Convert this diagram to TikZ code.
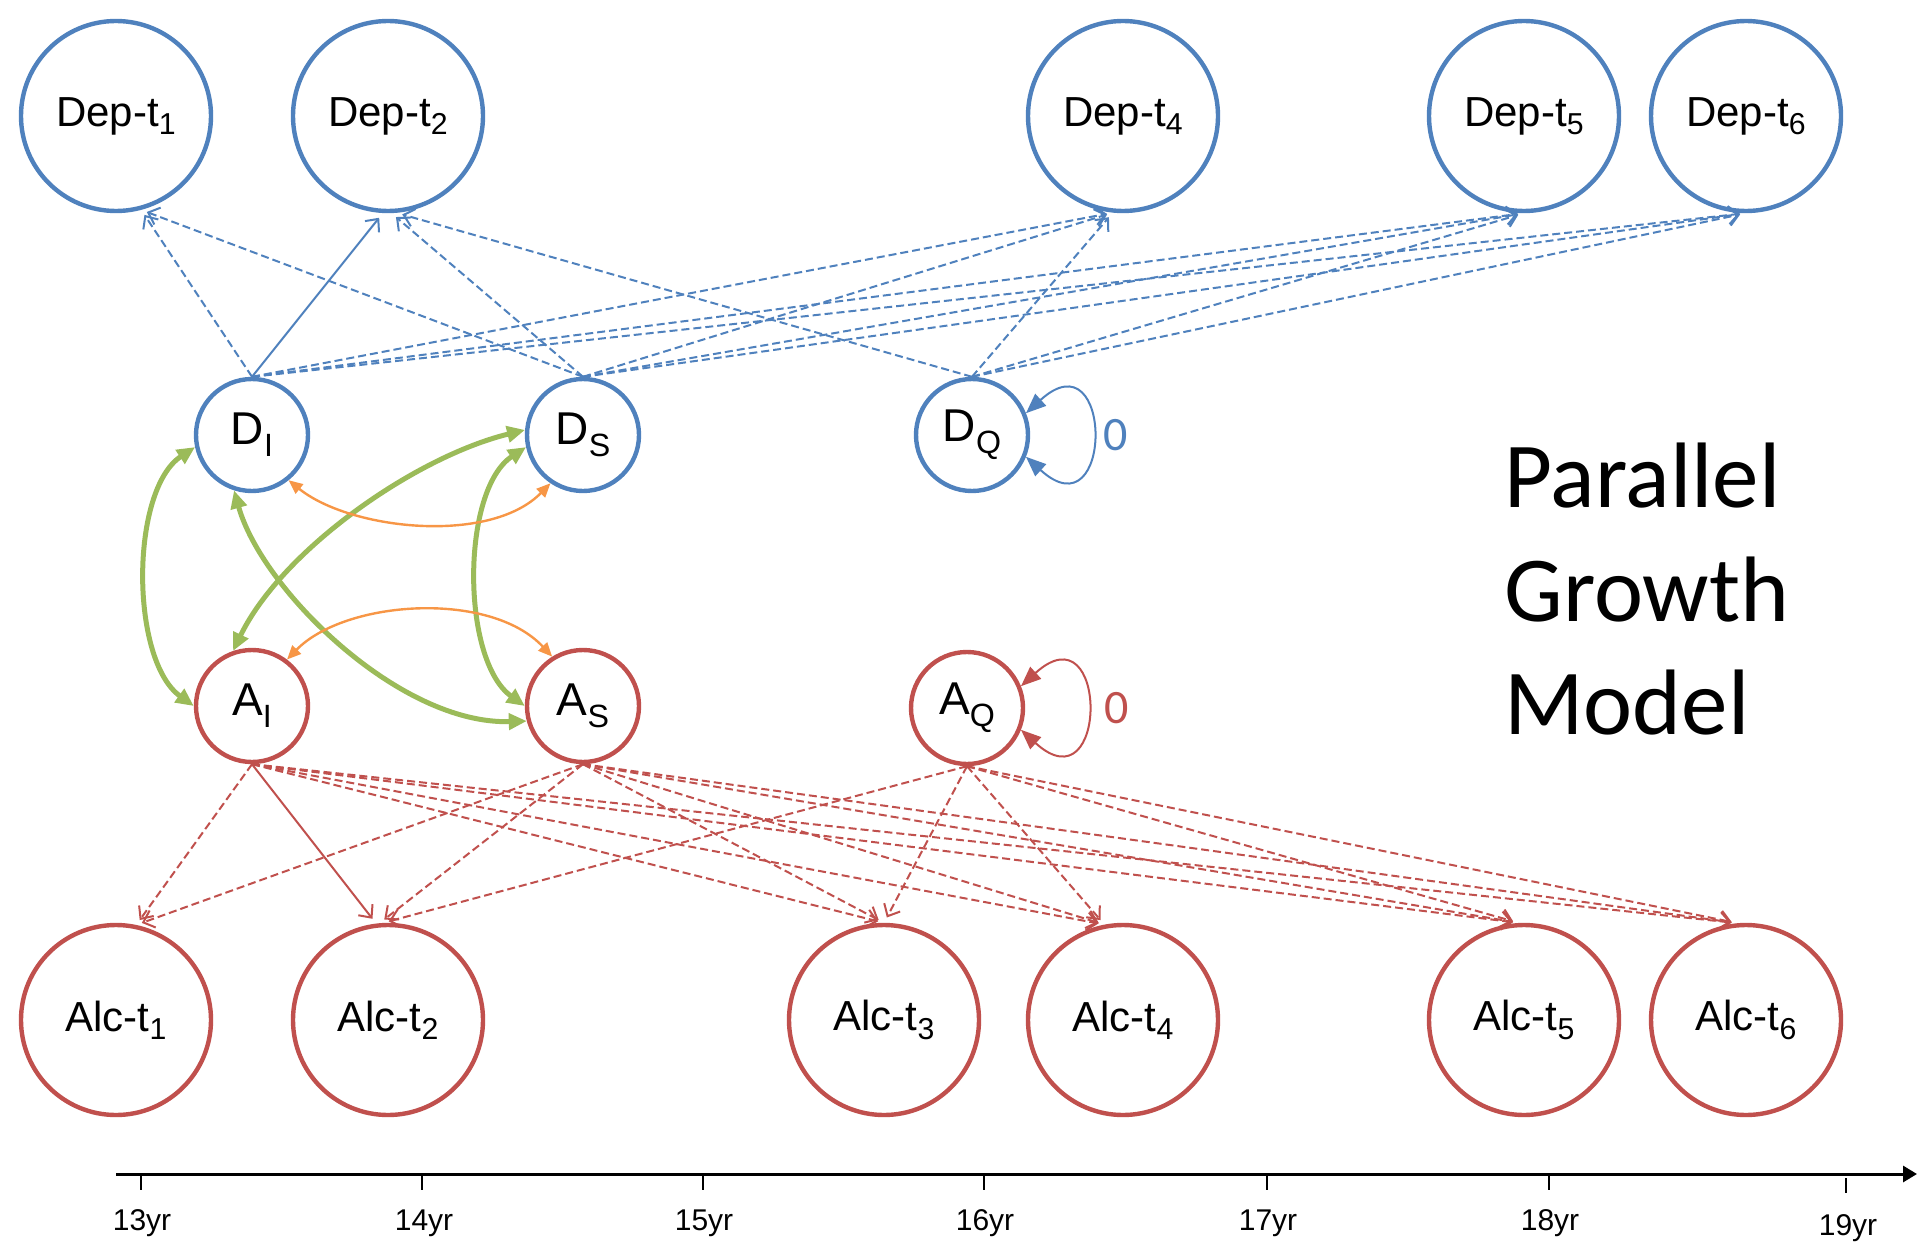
\documentclass[tikz,border=0pt]{standalone}
\usepackage{fontspec}
\setmainfont{Liberation Sans}
\newfontfamily\calib{Carlito}
\usepackage{graphicx}
\usetikzlibrary{arrows.meta}
\definecolor{ublue}{HTML}{4F81BD}
\definecolor{ured}{HTML}{C0504D}
\definecolor{ugreen}{HTML}{9BBB59}
\definecolor{uorange}{HTML}{F79646}
\newcommand{\lsub}[1]{\raisebox{-0.2em}{\scalebox{0.72}{#1}}}
\newcommand{\ssub}[1]{\raisebox{-0.26em}{\scalebox{0.7}{#1}}}
\begin{document}
\begin{tikzpicture}[x=0.5pt,y=-0.5pt,
  bigD/.style={circle, draw=ublue, fill=white, line width=2.2pt, minimum size=95pt, inner sep=0pt, font=\fontsize{21}{25}\selectfont},
  bigA/.style={bigD, draw=ured},
  latD/.style={circle, draw=ublue, fill=white, line width=2.2pt, minimum size=56pt, inner sep=0pt, font=\fontsize{23}{27}\selectfont},
  latA/.style={latD, draw=ured},
  bdash/.style={draw=ublue, line width=1pt, dash pattern=on 4pt off 2pt, shorten >=3pt, -{Straight Barb[length=5pt,width=9pt]}},
  bsolid/.style={draw=ublue, line width=1pt, shorten >=3pt, -{Straight Barb[length=5pt,width=9pt]}},
  rdash/.style={bdash, draw=ured},
  rsolid/.style={bsolid, draw=ured},
  gcurve/.style={draw=ugreen, line width=2.5pt, {Triangle[length=9pt,width=8pt]}-{Triangle[length=9pt,width=8pt]}},
  ocurve/.style={draw=uorange, line width=1.2pt, {Triangle[length=7pt,width=6pt]}-{Triangle[length=7pt,width=6pt]}},
  bloop/.style={draw=ublue, line width=1pt, {Triangle[length=10pt,width=8pt]}-{Triangle[length=10pt,width=8pt]}},
  rloop/.style={bloop, draw=ured},
  zlabel/.style={font=\calib\fontsize{24}{28}\selectfont},
  ttl/.style={anchor=base west, inner sep=0pt, font=\calib\fontsize{46.5}{56}\selectfont},
  yr/.style={anchor=base, inner sep=0pt, font=\fontsize{15}{18}\selectfont},
  tick/.style={line width=0.6pt}
]
\useasboundingbox (0,0) rectangle (1917,1247);

% outcome nodes
\node[bigD] (dep1) at (116,116) {Dep-t\lsub{1}};
\node[bigD] (dep2) at (388,116) {Dep-t\lsub{2}};
\node[bigD] (dep4) at (1123,116) {Dep-t\lsub{4}};
\node[bigD] (dep5) at (1524,116) {Dep-t\lsub{5}};
\node[bigD] (dep6) at (1746,116) {Dep-t\lsub{6}};

\node[bigA] (alc1) at (116,1020) {Alc-t\lsub{1}};
\node[bigA] (alc2) at (388,1020) {Alc-t\lsub{2}};
\node[bigA] (alc3) at (884,1020) {Alc-t\lsub{3}};
\node[bigA] (alc4) at (1123,1020) {Alc-t\lsub{4}};
\node[bigA] (alc5) at (1524,1020) {Alc-t\lsub{5}};
\node[bigA] (alc6) at (1746,1020) {Alc-t\lsub{6}};

% latent nodes
\node[latD] (di) at (252,435) {D\ssub{I}};
\node[latD] (ds) at (583,435) {D\ssub{S}};
\node[latD] (dq) at (972,435) {D\ssub{Q}};
\node[latA] (ai) at (252,706) {A\ssub{I}};
\node[latA] (as) at (583,706) {A\ssub{S}};
\node[latA] (aq) at (967,708) {A\ssub{Q}};

% blue loadings
\draw[bdash]  (di.north) -- (dep1.-75);
\draw[bsolid] (di.north) -- (dep2.-93);
\draw[bdash]  (di.north) -- (dep4.-96);
\draw[bdash]  (di.north) -- (dep5.-90);
\draw[bdash]  (di.north) -- (dep6.-90);
\draw[bdash]  (ds.north) -- (dep1.-75);
\draw[bdash]  (ds.north) -- (dep2.-88);
\draw[bdash]  (ds.north) -- (dep4.-96);
\draw[bdash]  (ds.north) -- (dep5.-90);
\draw[bdash]  (ds.north) -- (dep6.-90);
\draw[bdash]  (dq.north) -- (dep2.-85);
\draw[bdash]  (dq.north) -- (dep4.-96);
\draw[bdash]  (dq.north) -- (dep5.-90);
\draw[bdash]  (dq.north) -- (dep6.-90);

% red loadings
\draw[rdash]  (ai.south) -- (alc1.78);
\draw[rsolid] (ai.south) -- (alc2.97);
\draw[rdash]  (ai.south) -- (alc3.90);
\draw[rdash]  (ai.south) -- (alc4.101);
\draw[rdash]  (ai.south) -- (alc5.93);
\draw[rdash]  (ai.south) -- (alc6.95);
\draw[rdash]  (as.south) -- (alc1.78);
\draw[rdash]  (as.south) -- (alc2.95);
\draw[rdash]  (as.south) -- (alc3.90);
\draw[rdash]  (as.south) -- (alc4.101);
\draw[rdash]  (as.south) -- (alc5.93);
\draw[rdash]  (as.south) -- (alc6.95);
\draw[rdash]  (aq.south) -- (alc2.93);
\draw[rdash]  (aq.south) -- (alc3.90);
\draw[rdash]  (aq.south) -- (alc4.101);
\draw[rdash]  (aq.south) -- (alc5.93);
\draw[rdash]  (aq.south) -- (alc6.95);

% green covariances
\draw[gcurve] (di.192) .. controls (130,490) and (130,660) .. (ai.180);
\draw[gcurve] (ds.192) .. controls (461,490) and (461,660) .. (as.180);
\draw[gcurve] (ai.109) .. controls (282,550) and (415,457) .. (ds.175);
\draw[gcurve] (di.252) .. controls (262,590) and (400,725) .. (as.195);

% orange covariances
\draw[ocurve] (di.-51) .. controls (350,530) and (490,545) .. (ds.236);
\draw[ocurve] (ai.53) .. controls (345,600) and (490,590) .. (as.122);

% self loops
\draw[bloop] (dq.22) .. controls +(88,-80) and +(88,80) .. (dq.-22);
\draw[rloop] (aq.22) .. controls +(88,-80) and +(88,80) .. (aq.-22);
\node[zlabel, text=ublue] (zq) at (1116,435) {0};
\node[zlabel, text=ured] (za) at (1117,708) {0};

% title
\node[ttl] (t1) at (1504,507) {Parallel};
\node[ttl] (t2) at (1504,621) {Growth};
\node[ttl] (t3) at (1504,734) {Model};

% time axis
\coordinate (axs) at (116,1174);
\coordinate (axe) at (1917,1174);
\draw[line width=1.5pt, -{Triangle[length=7pt,width=8pt]}] (axs) -- (axe);
\foreach \x in {141,422,703,984,1267,1549} \draw[tick] (\x,1174) -- (\x,1190);
\draw[tick] (1846,1178) -- (1846,1193);
\node[yr] (y13) at (142,1230) {13yr};
\node[yr] (y14) at (424,1230) {14yr};
\node[yr] (y15) at (704,1230) {15yr};
\node[yr] (y16) at (985,1230) {16yr};
\node[yr] (y17) at (1268,1230) {17yr};
\node[yr] (y18) at (1550,1230) {18yr};
\node[yr] (y19) at (1848,1235) {19yr};
\end{tikzpicture}
\end{document}
